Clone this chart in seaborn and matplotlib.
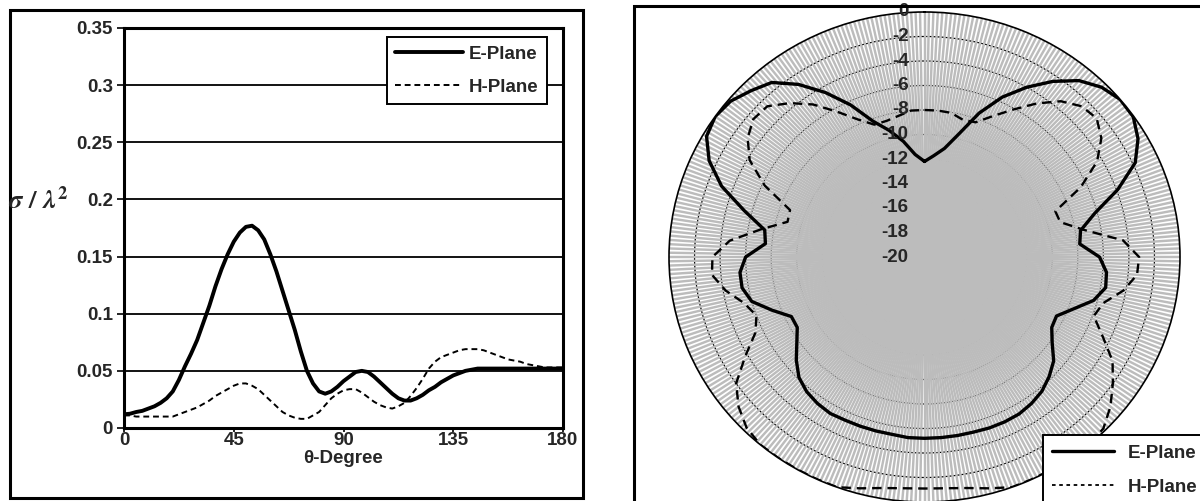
import numpy as np
import matplotlib
matplotlib.use("Agg")
import matplotlib.pyplot as plt
import seaborn as sns
from matplotlib.lines import Line2D
from matplotlib.patches import Rectangle

# ---------------- data: left chart (normalised RCS vs theta) ----------------
theta_deg = [0, 2.5, 5, 7.5, 10, 12.5, 15, 17.5, 20, 22.5, 25, 27.5, 30, 32.5, 35, 37.5,
             40, 42.5, 45, 47.5, 50, 52.5, 55, 57.5, 60, 62.5, 65, 67.5, 70, 72.5, 75,
             77.5, 80, 82.5, 85, 87.5, 90, 92.5, 95, 97.5, 100, 102.5, 105, 107.5, 110,
             112.5, 115, 117.5, 120, 122.5, 125, 127.5, 130, 132.5, 135, 137.5, 140,
             142.5, 145, 147.5, 150, 152.5, 155, 157.5, 160, 162.5, 165, 167.5, 170,
             172.5, 175, 177.5, 180]
rcs_e = [0.012, 0.0125, 0.014, 0.015, 0.017, 0.019, 0.022, 0.026, 0.032, 0.042, 0.054,
         0.065, 0.077, 0.092, 0.107, 0.124, 0.139, 0.152, 0.163, 0.171, 0.176, 0.177,
         0.173, 0.165, 0.152, 0.137, 0.120, 0.103, 0.086, 0.067, 0.050, 0.039, 0.032,
         0.030, 0.032, 0.036, 0.041, 0.045, 0.049, 0.050, 0.049, 0.045, 0.040, 0.035,
         0.030, 0.026, 0.024, 0.024, 0.026, 0.029, 0.033, 0.036, 0.040, 0.043, 0.046,
         0.048, 0.050, 0.051, 0.052, 0.052, 0.052, 0.052, 0.052, 0.052, 0.052, 0.052,
         0.052, 0.052, 0.052, 0.052, 0.052, 0.052, 0.052]
rcs_h = [0.011, 0.011, 0.010, 0.010, 0.010, 0.010, 0.010, 0.010, 0.010, 0.012, 0.014,
         0.016, 0.018, 0.021, 0.024, 0.028, 0.031, 0.034, 0.037, 0.039, 0.039, 0.037,
         0.034, 0.029, 0.024, 0.019, 0.014, 0.011, 0.009, 0.008, 0.008, 0.011, 0.014,
         0.020, 0.026, 0.030, 0.033, 0.034, 0.034, 0.031, 0.027, 0.023, 0.020, 0.018,
         0.017, 0.019, 0.022, 0.028, 0.035, 0.043, 0.052, 0.058, 0.062, 0.064, 0.066,
         0.068, 0.069, 0.069, 0.069, 0.068, 0.066, 0.064, 0.062, 0.060, 0.059, 0.058,
         0.056, 0.055, 0.054, 0.053, 0.053, 0.053, 0.053]
x_ticks = [0, 45, 90, 135, 180]
y_ticks = [0, 0.05, 0.1, 0.15, 0.2, 0.25, 0.3, 0.35]
y_tick_labels = ["0", "0.05", "0.1", "0.15", "0.2", "0.25", "0.3", "0.35"]

# ---------------- data: right chart (radiation pattern, dB) ----------------
pattern_angle = list(range(0, 360, 5))
pattern_e_db = [-12.2, -11.7, -11.0, -9.6, -7.5, -5.6, -4.0, -2.5, -1.2, -0.4, 0.0, -0.05,
                -0.7, -1.8, -3.9, -6.2, -7.6, -7.8, -6.3, -5.7, -5.6, -6.3, -7.6, -8.6,
                -8.5, -7.8, -6.8, -6.2, -5.7, -5.4, -5.2, -5.15, -5.15, -5.2, -5.2, -5.2,
                -5.2, -5.2, -5.3, -5.3, -5.3, -5.3, -5.25, -5.4, -5.65, -6.1, -6.9, -7.8,
                -8.5, -8.5, -7.3, -6.0, -5.5, -5.5, -6.0, -7.5, -7.3, -5.4, -3.1, -1.4,
                -0.3, 0.0, -0.2, -0.8, -1.4, -2.8, -4.5, -6.3, -8.2, -9.3, -10.4, -11.6]
pattern_h_db = [-8.0, -8.0, -8.05, -8.4, -8.3, -7.3, -6.1, -4.7, -3.4, -2.6, -2.4, -3.1,
                -4.4, -6.5, -9.1, -9.0, -7.3, -4.4, -3.2, -3.3, -4.2, -5.5, -5.9, -4.6,
                -3.0, -2.0, -1.0, -0.2, 0.0, 0.0, 0.0, 0.0, 0.0, -0.45, -0.85, -1.05,
                -1.1, -1.05, -0.85, -0.45, 0.0, 0.0, 0.0, 0.0, 0.0, -0.3, -1.0, -2.0,
                -3.8, -5.4, -6.0, -5.4, -4.2, -3.3, -3.4, -4.7, -7.0, -8.9, -8.8, -6.2,
                -4.2, -3.1, -2.5, -2.6, -3.6, -4.8, -6.3, -7.6, -8.5, -8.5, -8.3, -8.0]
ring_levels = [0, -2, -4, -6, -8, -10, -12, -14, -16, -18, -20]
ring_labels = ["0", "-2", "-4", "-6", "-8", "-10", "-12", "-14", "-16", "-18", "-20"]
series_names = ["E-Plane", "H-Plane"]

# ---------------- style ----------------
sns.set_style("white")
plt.rcParams["font.family"] = ["Liberation Sans", "DejaVu Sans"]
plt.rcParams["font.weight"] = "bold"
plt.rcParams["mathtext.fontset"] = "stix"
FS = 13.5

W, H = 1200, 501
fig = plt.figure(figsize=(W / 100, H / 100), dpi=100)
fig.patch.set_facecolor("white")

# ---------------- left chart ----------------
axL = fig.add_axes([124 / W, (H - 428) / H, 439 / W, 400 / H])
sns.lineplot(x=theta_deg, y=rcs_h, ax=axL, color="black", lw=1.4,
             linestyle=(0, (3, 2)), sort=False)
sns.lineplot(x=theta_deg, y=rcs_e, ax=axL, color="black", lw=2.8, sort=False,
             solid_joinstyle="round")
axL.set_xlim(0, 180)
axL.set_ylim(0, 0.35)
axL.set_xticks(x_ticks)
axL.set_xticklabels([str(t) for t in x_ticks], fontsize=FS, fontweight="bold")
axL.set_yticks(y_ticks)
axL.set_yticklabels(y_tick_labels, fontsize=FS, fontweight="bold")
axL.yaxis.grid(True, color="black", lw=1.3)
axL.xaxis.grid(False)
axL.set_axisbelow(True)
for sp in axL.spines.values():
    sp.set_color("black")
    sp.set_linewidth(2.2)
axL.tick_params(axis="y", direction="out", length=5, width=1.2, color="black",
                left=True, pad=3)
axL.tick_params(axis="x", direction="out", length=3, width=1.2, color="black",
                bottom=True, pad=0)
axL.set_xlabel("θ-Degree", fontsize=FS, fontweight="bold", labelpad=0.5)
axL.set_ylabel("")
fig.text(8 / W, (H - 200) / H, r"$\sigma\ /\ \lambda^{2}$", fontsize=19,
         ha="left", va="center")

hE = Line2D([], [], color="black", lw=2.8)
hH = Line2D([], [], color="black", lw=1.4, linestyle=(0, (3, 2)))
legL = fig.legend([hE, hH], series_names, loc="upper left",
                  bbox_to_anchor=(387 / W, (H - 37) / H), frameon=True, fancybox=False,
                  edgecolor="black", framealpha=1, prop={"size": FS, "weight": "bold"},
                  handlelength=3.6, handletextpad=0.3, borderpad=0.45,
                  labelspacing=0.85, borderaxespad=0)
legL.get_frame().set_linewidth(1.4)

# left panel border
fig.add_artist(Rectangle((10 / W, (H - 498) / H), 573 / W, 488 / H, fill=False,
                         lw=2.2, edgecolor="black", transform=fig.transFigure))
# right panel border (only top & left visible)
fig.add_artist(Rectangle((634 / W, -0.1), 0.6, (H - 6) / H + 0.1, fill=False,
                         lw=2.2, edgecolor="black", transform=fig.transFigure))

# ---------------- right chart (radar) ----------------
axP = fig.add_axes([669 / W, (H - 502) / H, 511 / W, 490 / H], projection="polar")
axP.set_aspect("auto")
axP.set_theta_zero_location("N")
axP.set_theta_direction(-1)
axP.set_facecolor("white")

theta_closed = np.deg2rad(np.append(pattern_angle, 360))
e_closed = np.append(pattern_e_db, pattern_e_db[0])
h_closed = np.append(pattern_h_db, pattern_h_db[0])

sns.lineplot(x=theta_closed, y=h_closed, ax=axP, color="black", lw=1.7,
             linestyle=(0, (4, 2.5)), sort=False)
sns.lineplot(x=theta_closed, y=e_closed, ax=axP, color="black", lw=2.4, sort=False,
             solid_joinstyle="round")

axP.set_ylim(-20, 0)
axP.set_xticks(np.deg2rad(np.arange(0, 360, 1)))
axP.set_xticklabels([])
axP.set_yticks(ring_levels[1:-1])
axP.set_yticklabels([])
axP.xaxis.grid(True, color="#bcbcbc", lw=1.75, linestyle="-")
axP.yaxis.grid(True, color="black", lw=0.9, linestyle="-")
axP.yaxis.set_zorder(0.3)
axP.xaxis.set_zorder(0.6)
axP.tick_params(length=0)
axP.spines["polar"].set_color("black")
axP.spines["polar"].set_linewidth(1.2)
axP.set_xlabel("")
axP.set_ylabel("")

for lvl, lab in zip(ring_levels, ring_labels):
    axP.annotate(lab, xy=(0, lvl), xytext=(-11.5, 0), textcoords="offset points",
                 ha="right", va="center", fontsize=FS, fontweight="bold", zorder=5)

hE2 = Line2D([], [], color="black", lw=2.4)
hH2 = Line2D([], [], color="black", lw=1.3, linestyle=(0, (2, 2)))
legP = fig.legend([hE2, hH2], series_names, loc="upper left",
                  bbox_to_anchor=(1043 / W, (H - 435) / H), frameon=True, fancybox=False,
                  edgecolor="black", framealpha=1, prop={"size": FS, "weight": "bold"},
                  handlelength=3.3, handletextpad=0.7, borderpad=0.5,
                  labelspacing=0.9, borderaxespad=0)
legP.get_frame().set_linewidth(1.4)

fig.savefig("out.png", dpi=100, facecolor="white")
